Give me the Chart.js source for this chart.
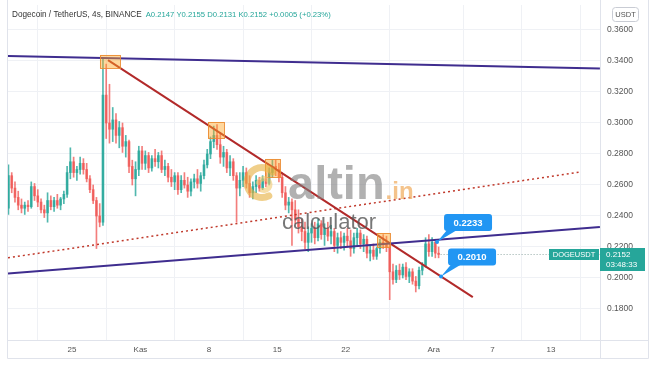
<!DOCTYPE html>
<html>
<head>
<meta charset="utf-8">
<script src="https://cdn.jsdelivr.net/npm/chart.js@4.4.0/dist/chart.umd.min.js"></script>
<style>
  html, body { margin: 0; padding: 0; background: #fff; }
</style>
</head>
<body>
<canvas id="chart" width="654" height="366"></canvas>
<script>
// 8h candles, x in days counted from 25 Oct (0 = "25")
const firstDay = -6.5;
const candleStep = 1 / 3;

const opens = [
  .245,.266,.258,.252,.247,.245,.247,.246,.259,.253,
  .249,.244,.242,.250,.246,.250,.247,.251,.254,.268,
  .275,.268,.270,.274,.270,.264,.257,.250,.240,.236,
  .318,.300,.296,.302,.292,.297,.285,.288,.272,.264,
  .270,.282,.274,.279,.271,.277,.275,.279,.270,.272,
  .265,.262,.266,.257,.263,.260,.256,.262,.264,.261,
  .266,.273,.280,.288,.292,.286,.278,.281,.271,.275,
  .266,.258,.263,.268,.261,.255,.259,.263,.258,.264,
  .261,.268,.272,.270,.265,.255,.247,.249,.244,.238,
  .233,.230,.223,.229,.232,.226,.235,.228,.232,.227,
  .230,.221,.226,.223,.227,.224,.219,.226,.229,.222,
  .225,.216,.218,.214,.219,.223,.222,.220,.204,.199,
  .205,.202,.207,.201,.204,.198,.195,.205,.208,.222,
  .217,.223,.216];
const highs = [
  .273,.268,.262,.256,.251,.249,.250,.262,.261,.257,
  .251,.247,.255,.253,.252,.254,.252,.256,.272,.284,
  .278,.272,.278,.277,.274,.266,.260,.252,.248,.342,
  .338,.325,.310,.306,.301,.300,.292,.289,.276,.275,
  .285,.285,.282,.281,.279,.283,.281,.282,.276,.274,
  .270,.268,.268,.266,.268,.265,.264,.267,.270,.268,
  .276,.283,.291,.298,.299,.294,.285,.283,.279,.277,
  .268,.268,.272,.271,.266,.262,.266,.265,.266,.268,
  .271,.276,.276,.274,.268,.259,.252,.251,.250,.244,
  .238,.236,.233,.235,.236,.238,.237,.235,.236,.234,
  .232,.229,.230,.229,.232,.231,.229,.232,.231,.228,
  .227,.221,.222,.220,.225,.228,.227,.222,.209,.208,
  .209,.209,.210,.206,.206,.201,.207,.210,.226,.228,
  .226,.225,.220];
const lows = [
  .241,.255,.249,.244,.242,.241,.243,.245,.250,.246,
  .242,.239,.236,.244,.243,.245,.244,.248,.252,.264,
  .265,.263,.267,.267,.262,.255,.248,.219,.233,.234,
  .290,.287,.288,.287,.284,.281,.278,.268,.260,.253,
  .266,.270,.270,.268,.269,.272,.271,.268,.266,.262,
  .259,.257,.254,.255,.258,.252,.253,.258,.258,.256,
  .264,.271,.277,.284,.283,.274,.272,.268,.266,.263,
  .236,.253,.259,.258,.252,.251,.255,.256,.257,.259,
  .260,.265,.266,.262,.252,.244,.242,.221,.235,.229,
  .224,.219,.217,.223,.222,.224,.225,.221,.224,.222,
  .217,.216,.219,.218,.220,.214,.216,.221,.219,.217,
  .213,.211,.212,.212,.216,.219,.217,.186,.196,.197,
  .199,.200,.199,.197,.196,.191,.193,.202,.207,.214,
  .214,.213,.213];
const closes = [
  .266,.258,.252,.247,.245,.247,.246,.259,.253,.249,
  .244,.242,.250,.246,.250,.247,.251,.254,.268,.275,
  .268,.270,.274,.270,.264,.257,.250,.240,.236,.318,
  .300,.296,.302,.292,.297,.285,.288,.272,.264,.270,
  .282,.274,.279,.271,.277,.275,.279,.270,.272,.265,
  .262,.266,.257,.263,.260,.256,.262,.264,.261,.266,
  .273,.280,.288,.292,.286,.278,.281,.271,.275,.266,
  .258,.263,.268,.261,.255,.259,.263,.258,.264,.261,
  .268,.272,.270,.265,.255,.247,.249,.244,.238,.233,
  .230,.223,.229,.232,.226,.235,.228,.232,.227,.230,
  .221,.226,.223,.227,.224,.219,.226,.229,.222,.225,
  .216,.218,.214,.219,.223,.222,.220,.204,.199,.205,
  .202,.207,.201,.204,.198,.195,.205,.208,.222,.217,
  .223,.216,.2152];

const tickDays = [0, 7, 14, 21, 28, 37, 43, 49];
const tickLabels = ['25', 'Kas', '8', '15', '22', 'Ara', '7', '13'];
const priceTicks = [0.18, 0.20, 0.22, 0.24, 0.26, 0.28, 0.30, 0.32, 0.34, 0.36];

// drawn trend lines, [day, price] end points
const upperChannel = [[-6.55, 0.3432], [54.0, 0.3352]];
const lowerChannel = [[-6.55, 0.2029], [54.0, 0.2329]];
const fallingLine = [[3.68, 0.3406], [41.0, 0.1877]];
const dottedLine = [[-6.55, 0.2130], [51.96, 0.2684]];

// touch boxes: [day from, day to, price top, price bottom]
const touchBoxes = [
  [2.86, 4.91, 0.3439, 0.3355],
  [13.91, 15.55, 0.3006, 0.2903],
  [19.74, 21.28, 0.2768, 0.2652],
  [31.20, 32.53, 0.2290, 0.2200]
];

const calloutTexts = ['0.2233', '0.2010'];
const calloutDays = [37.34, 37.75];
const calloutPrices = [0.2233, 0.2010];

const lastPrice = 0.2152;
const symbolName = 'DOGEUSDT';
const countdown = '03:48:33';
const titleText = 'Dogecoin / TetherUS, 4s, BINANCE';
const ohlcText = 'A0.2147 Y0.2155 D0.2131 K0.2152 +0.0005 (+0.23%)';

const UP = 'rgba(38,166,154,0.8)';
const DOWN = 'rgba(239,83,80,0.75)';
const FONT = '"Liberation Sans", Arial, sans-serif';

const candleDays = opens.map((_, i) => firstDay + i * candleStep);
const colors = opens.map((o, i) => (closes[i] >= o ? UP : DOWN));

const toPoints = (pts) => pts.map(([d, p]) => ({ x: d, y: p }));

const lineSet = (pts, color, width, dash) => ({
  type: 'line',
  data: toPoints(pts),
  borderColor: color,
  borderWidth: width,
  borderDash: dash || [],
  pointRadius: 0,
  fill: false,
  tension: 0,
  order: 0
});

function roundRect(ctx, x, y, w, h, r) {
  ctx.beginPath();
  ctx.moveTo(x + r, y);
  ctx.arcTo(x + w, y, x + w, y + h, r);
  ctx.arcTo(x + w, y + h, x, y + h, r);
  ctx.arcTo(x, y + h, x, y, r);
  ctx.arcTo(x, y, x + w, y, r);
  ctx.closePath();
}

// keep the plot area exactly where the layout padding puts it
const noLabelPadding = (s) => {
  s.paddingTop = 0; s.paddingBottom = 0; s.paddingLeft = 0; s.paddingRight = 0;
};

const overlay = {
  id: 'overlay',
  afterDatasetsDraw(chart) {
    const { ctx, chartArea: a, scales: { x, y } } = chart;
    ctx.save();
    ctx.beginPath();
    ctx.rect(a.left, a.top, a.right - a.left, a.bottom - a.top);
    ctx.clip();

    // last price line
    const py = Math.round(y.getPixelForValue(lastPrice)) + 0.5;
    ctx.strokeStyle = 'rgba(120,150,145,0.8)';
    ctx.lineWidth = 1;
    ctx.setLineDash([1, 2]);
    ctx.beginPath();
    ctx.moveTo(x.getPixelForValue(candleDays[candleDays.length - 1]) + 2, py);
    ctx.lineTo(a.right, py);
    ctx.stroke();
    ctx.setLineDash([]);

    // boxes on touch points
    touchBoxes.forEach(([d0, d1, p0, p1]) => {
      const x0 = x.getPixelForValue(d0), x1 = x.getPixelForValue(d1);
      const y0 = y.getPixelForValue(p0), y1 = y.getPixelForValue(p1);
      ctx.fillStyle = 'rgba(255,167,38,0.45)';
      ctx.fillRect(x0, y0, x1 - x0, y1 - y0);
      ctx.strokeStyle = 'rgba(235,140,50,0.9)';
      ctx.strokeRect(Math.round(x0) + 0.5, Math.round(y0) + 0.5, Math.round(x1 - x0), Math.round(y1 - y0));
    });

    // watermark
    const cx = (a.left + a.right) / 2, cy = (a.top + a.bottom) / 2;
    ctx.lineCap = 'round';
    ctx.strokeStyle = 'rgba(230,175,60,0.6)';
    ctx.lineWidth = 7;
    ctx.beginPath();
    ctx.arc(cx - 42, cy + 10, 15, Math.PI * 0.35, Math.PI * 1.75);
    ctx.stroke();
    ctx.strokeStyle = 'rgba(240,200,110,0.6)';
    ctx.lineWidth = 5;
    ctx.beginPath();
    ctx.arc(cx - 40, cy + 12, 6, Math.PI * 1.1, Math.PI * 2.6);
    ctx.stroke();

    ctx.textBaseline = 'alphabetic';
    ctx.textAlign = 'left';
    ctx.fillStyle = 'rgba(125,125,125,0.6)';
    ctx.font = 'bold 47px ' + FONT;
    ctx.fillText('altin', cx - 16, cy + 26);
    const w = ctx.measureText('altin').width;
    ctx.fillStyle = 'rgba(240,170,90,0.7)';
    ctx.font = 'bold 24px ' + FONT;
    ctx.fillText('.in', cx - 16 + w + 1, cy + 26);
    ctx.fillStyle = 'rgba(85,85,85,0.8)';
    ctx.font = '22px ' + FONT;
    ctx.fillText('calculator', cx - 22, cy + 56);
    ctx.restore();
  },
  afterDraw(chart) {
    const { ctx, chartArea: a, scales: { x, y } } = chart;
    ctx.save();

    // panel frame and separators
    ctx.strokeStyle = '#e0e3eb';
    ctx.lineWidth = 1;
    ctx.beginPath();
    ctx.moveTo(7.5, 0); ctx.lineTo(7.5, 358.5); ctx.lineTo(648.5, 358.5); ctx.lineTo(648.5, 0);
    ctx.moveTo(a.right + 0.5, 0); ctx.lineTo(a.right + 0.5, 358.5);
    ctx.moveTo(7.5, a.bottom + 0.5); ctx.lineTo(648.5, a.bottom + 0.5);
    ctx.stroke();

    // header
    ctx.textBaseline = 'middle';
    ctx.textAlign = 'left';
    ctx.font = '8.2px ' + FONT;
    ctx.fillStyle = '#333';
    ctx.fillText(titleText, 12, 15);
    const tw = ctx.measureText(titleText).width;
    ctx.font = '7.7px ' + FONT;
    ctx.fillStyle = '#26a69a';
    ctx.fillText(ohlcText, 12 + tw + 4, 15);

    // USDT box
    ctx.strokeStyle = '#c9ccd4';
    roundRect(ctx, 612.5, 7.5, 26, 14, 3);
    ctx.stroke();
    ctx.fillStyle = '#555';
    ctx.font = '7.5px ' + FONT;
    ctx.textAlign = 'center';
    ctx.fillText('USDT', 625.5, 15);

    // symbol and price labels
    const py = Math.round(y.getPixelForValue(lastPrice));
    ctx.fillStyle = '#26a69a';
    ctx.fillRect(a.right - 51, py - 5, 50, 11);
    ctx.fillRect(a.right, py - 6, 45, 23);
    ctx.fillStyle = '#fff';
    ctx.font = '7.5px ' + FONT;
    ctx.fillText(symbolName, a.right - 26, py + 0.5);
    ctx.textAlign = 'left';
    ctx.font = '8px ' + FONT;
    ctx.fillText(lastPrice.toFixed(4), a.right + 6, py + 0.5);
    ctx.fillText(countdown, a.right + 6, py + 11);

    // callouts
    calloutTexts.forEach((t, i) => {
      const ax = x.getPixelForValue(calloutDays[i]);
      const ay = y.getPixelForValue(calloutPrices[i]);
      const bx = ax + 7, by = ay - 28, bw = 48, bh = 17;
      ctx.fillStyle = '#2196f3';
      roundRect(ctx, bx, by, bw, bh, 3);
      ctx.fill();
      ctx.beginPath();
      ctx.moveTo(bx + 3, by + bh - 1);
      ctx.lineTo(ax, ay);
      ctx.lineTo(bx + 13, by + bh - 1);
      ctx.closePath();
      ctx.fill();
      ctx.beginPath();
      ctx.arc(ax, ay, 2, 0, Math.PI * 2);
      ctx.fill();
      ctx.fillStyle = '#fff';
      ctx.font = 'bold 9.5px ' + FONT;
      ctx.textAlign = 'center';
      ctx.fillText(t, bx + bw / 2, by + bh / 2 + 0.5);
    });
    ctx.restore();
  }
};

new Chart(document.getElementById('chart'), {
  type: 'bar',
  data: {
    datasets: [
      lineSet(upperChannel, '#3f2d8f', 2),
      lineSet(lowerChannel, '#3f2d8f', 2),
      lineSet(fallingLine, '#b22a2a', 2),
      lineSet(dottedLine, '#c0392b', 1.5, [2, 3]),
      {
        type: 'bar',
        data: candleDays.map((d, i) => ({ x: d, y: [lows[i], highs[i]] })),
        backgroundColor: colors,
        barThickness: 1,
        grouped: false,
        order: 2
      },
      {
        type: 'bar',
        data: candleDays.map((d, i) => ({ x: d, y: [opens[i], closes[i]] })),
        backgroundColor: colors,
        barThickness: 2,
        minBarLength: 1,
        grouped: false,
        order: 1
      }
    ]
  },
  options: {
    responsive: false,
    animation: false,
    layout: { padding: { left: 8, right: 6, top: 5, bottom: 8 } },
    plugins: { legend: { display: false }, tooltip: { enabled: false } },
    scales: {
      x: {
        type: 'linear',
        min: -6.547,
        max: 54.01,
        offset: false,
        afterBuildTicks: (s) => { s.ticks = tickDays.map((v) => ({ value: v })); },
        afterFit: (s) => { s.height = 18; noLabelPadding(s); },
        ticks: {
          callback: (v) => tickLabels[tickDays.indexOf(v)],
          color: '#555',
          font: { family: FONT, size: 8 },
          padding: 5,
          maxRotation: 0,
          autoSkip: false
        },
        grid: { color: '#eff1f5', drawTicks: false },
        border: { display: false }
      },
      y: {
        position: 'right',
        min: 0.16,
        max: 0.376129,
        afterBuildTicks: (s) => { s.ticks = priceTicks.map((v) => ({ value: v })); },
        afterFit: (s) => { s.width = 48; noLabelPadding(s); },
        ticks: {
          callback: (v) => v.toFixed(4),
          color: '#555',
          font: { family: FONT, size: 8.5 },
          padding: 7
        },
        grid: { color: '#eff1f5', drawTicks: false },
        border: { display: false }
      }
    }
  },
  plugins: [overlay]
});
</script>
</body>
</html>
